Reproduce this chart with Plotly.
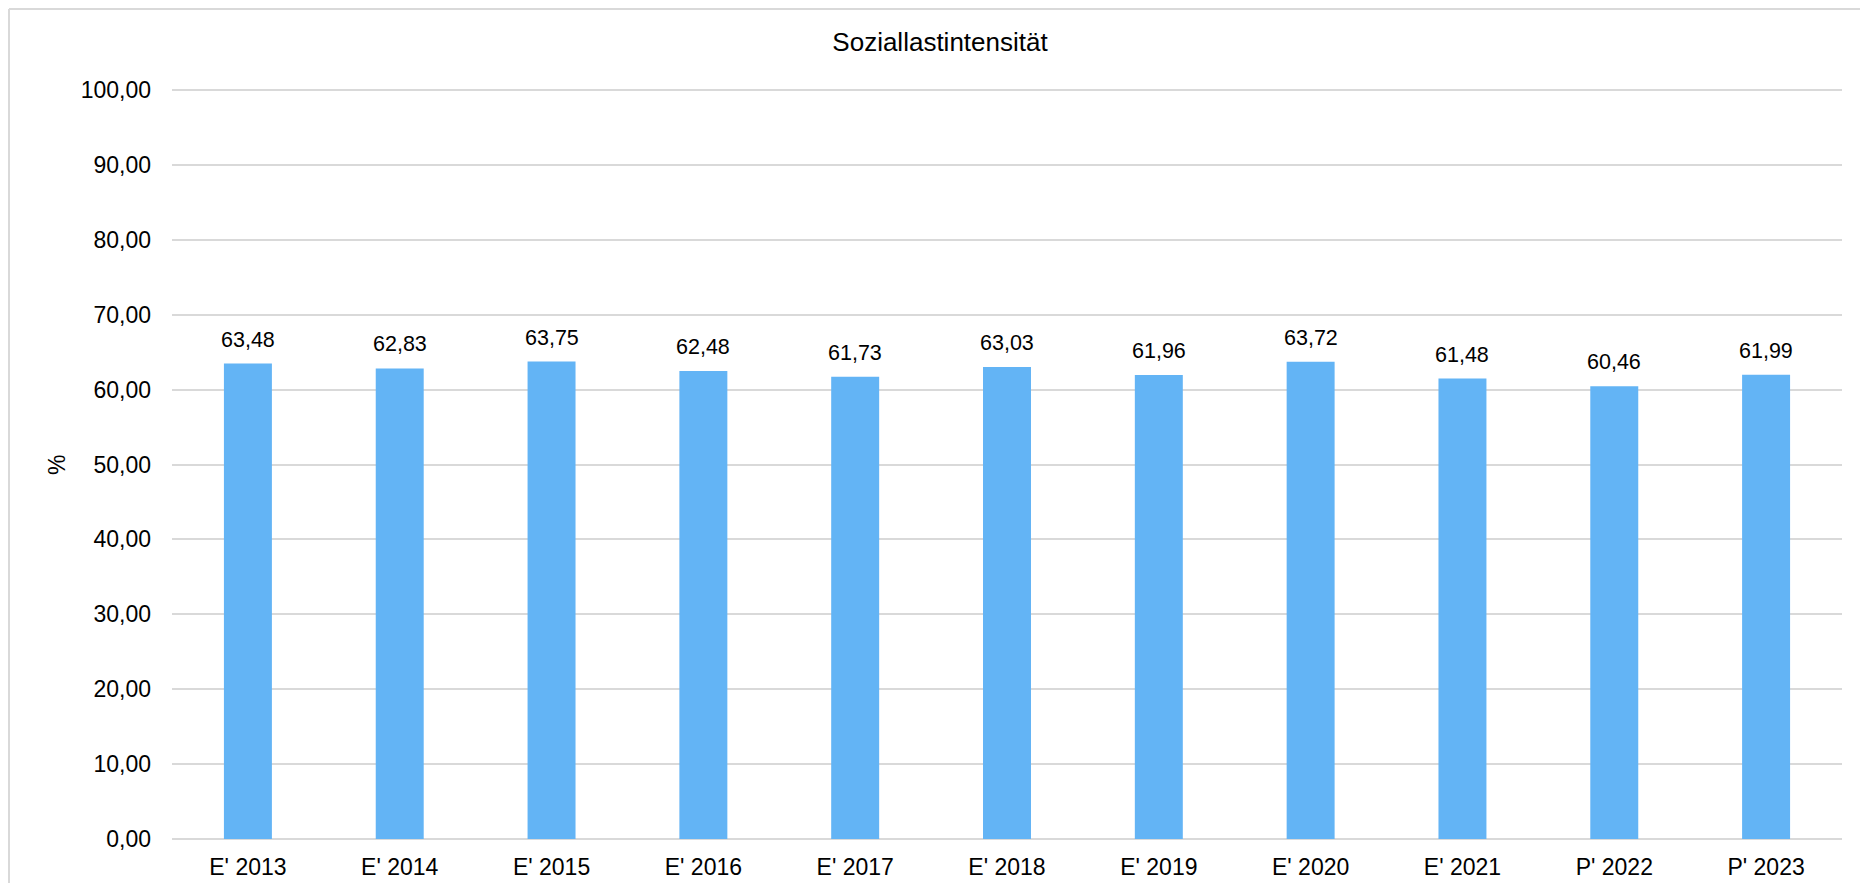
import plotly.graph_objects as go

categories = ["E' 2013", "E' 2014", "E' 2015", "E' 2016", "E' 2017", "E' 2018",
              "E' 2019", "E' 2020", "E' 2021", "P' 2022", "P' 2023"]
values = [63.48, 62.83, 63.75, 62.48, 61.73, 63.03, 61.96, 63.72, 61.48, 60.46, 61.99]
y_ticks = [0, 10, 20, 30, 40, 50, 60, 70, 80, 90, 100]
title_text = "Soziallastintensität"
y_title = "%"

FONT = "Liberation Sans, Arial, sans-serif"
BAR = "#63b4f5"
GRID = "#d9d9d9"

# page has an 8px body margin: figure origin sits at (8, 8)
W, H = 1852, 875
L, R, T, B = 164, 18, 80, 44
pw = W - L - R
ph = H - T - B

fig = go.Figure()
fig.add_trace(go.Bar(x=categories, y=values, marker=dict(color=BAR, line=dict(width=0)),
                     hoverinfo="x+y"))

for c, v in zip(categories, values):
    fig.add_annotation(x=c, y=v, xref="x", yref="y", text=f"{v:.2f}".replace(".", ","),
                       showarrow=False, yanchor="bottom", yshift=10,
                       font=dict(family=FONT, size=21.5, color="#000000"))

# y-axis title
fig.add_annotation(xref="paper", yref="paper", x=(49 - L) / pw, y=(ph - (465 - 8 - T)) / ph,
                   text=y_title, textangle=-90, showarrow=False,
                   xanchor="center", yanchor="middle",
                   font=dict(family=FONT, size=23, color="#000000"))

# outer chart border: only the top and left edges are visible in the frame
bx0 = (1 - L) / pw
by1 = (H - 1 - B) / ph
fig.add_shape(type="line", xref="paper", yref="paper", x0=bx0, x1=(W + 20 - L) / pw,
              y0=by1, y1=by1, line=dict(color=GRID, width=2), layer="below")
fig.add_shape(type="line", xref="paper", yref="paper", x0=bx0, x1=bx0,
              y0=-(B + 20) / ph, y1=by1, line=dict(color=GRID, width=2), layer="below")

fig.update_layout(
    width=W, height=H,
    margin=dict(l=L, r=R, t=T, b=B, autoexpand=False),
    paper_bgcolor="white", plot_bgcolor="white",
    separators=",.",
    bargap=0.684,
    showlegend=False,
    font=dict(family=FONT, color="#000000"),
    title=dict(text=title_text, x=932 / W, xref="container", xanchor="center",
               y=1 - 34 / H, yref="container", yanchor="middle",
               font=dict(family=FONT, size=26, color="#000000")),
    xaxis=dict(showgrid=False, showline=False, zeroline=False, ticks="",
               tickfont=dict(family=FONT, size=23, color="#000000"),
               ticklabelstandoff=12),
    yaxis=dict(range=[0, 100.27], tickvals=y_ticks, tickformat=".2f",
               showgrid=True, gridcolor=GRID, gridwidth=1.5,
               zeroline=True, zerolinecolor=GRID, zerolinewidth=1.5,
               showline=False, ticks="",
               tickfont=dict(family=FONT, size=23, color="#000000"),
               ticklabelstandoff=20),
)

fig.write_html("out.html")
